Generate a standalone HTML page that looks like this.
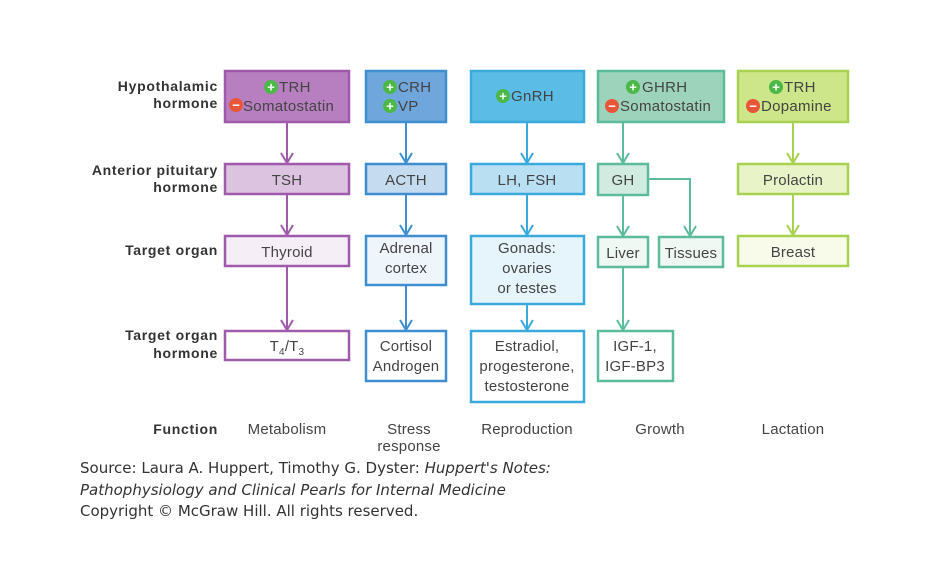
<!DOCTYPE html>
<html><head><meta charset="utf-8"><style>
html,body{margin:0;padding:0;background:#fff;width:930px;height:574px;overflow:hidden}
svg text{font-family:"Liberation Sans",Arial,sans-serif;fill:#444}
</style></head><body>
<svg width="930" height="574" viewBox="0 0 930 574" xmlns="http://www.w3.org/2000/svg">

<!-- row labels -->
<g font-size="14" font-weight="bold" text-anchor="end" letter-spacing="0.7">
<text x="218" y="91" style="fill:#333">Hypothalamic</text>
<text x="218" y="108" style="fill:#333">hormone</text>
<text x="218" y="175" style="fill:#333">Anterior pituitary</text>
<text x="218" y="192" style="fill:#333">hormone</text>
<text x="218" y="255" style="fill:#333">Target organ</text>
<text x="218" y="340" style="fill:#333">Target organ</text>
<text x="218" y="358" style="fill:#333">hormone</text>
<text x="218" y="434" style="fill:#333">Function</text>
</g>

<!-- connectors -->
<g stroke-width="2" fill="none">
<path d="M287 122 V163 M281 153 L287 163 L293 153" stroke="#a05aab"/>
<path d="M287 194 V235 M281 225 L287 235 L293 225" stroke="#a05aab"/>
<path d="M287 266 V330 M281 320 L287 330 L293 320" stroke="#a05aab"/>
<path d="M406 122 V163 M400 153 L406 163 L412 153" stroke="#3f8ecf"/>
<path d="M406 194 V235 M400 225 L406 235 L412 225" stroke="#3f8ecf"/>
<path d="M406 285 V330 M400 320 L406 330 L412 320" stroke="#3f8ecf"/>
<path d="M527 122 V163 M521 153 L527 163 L533 153" stroke="#3aa9dc"/>
<path d="M527 194 V235 M521 225 L527 235 L533 225" stroke="#3aa9dc"/>
<path d="M527 304 V330 M521 320 L527 330 L533 320" stroke="#3aa9dc"/>
<path d="M623 122 V163 M617 153 L623 163 L629 153" stroke="#5cbb9a"/>
<path d="M623 195 V236 M617 226 L623 236 L629 226" stroke="#5cbb9a"/>
<path d="M648 179 H690 V236 M684 226 L690 236 L696 226" stroke="#5cbb9a"/>
<path d="M623 267 V330 M617 320 L623 330 L629 320" stroke="#5cbb9a"/>
<path d="M793 122 V163 M787 153 L793 163 L799 153" stroke="#a8d14f"/>
<path d="M793 194 V235 M787 225 L793 235 L799 225" stroke="#a8d14f"/>
</g>

<!-- boxes -->
<g stroke-width="2.5">
<rect x="225" y="71" width="124" height="51" fill="#b77fc0" stroke="#a05aab"/>
<rect x="225" y="164" width="124" height="30" fill="#dcc3e0" stroke="#a05aab"/>
<rect x="225" y="236" width="124" height="30" fill="#f6eef7" stroke="#a05aab"/>
<rect x="225" y="331" width="124" height="29" fill="#fff" stroke="#a05aab"/>

<rect x="366" y="71" width="80" height="51" fill="#6fa6dc" stroke="#3f8ecf"/>
<rect x="366" y="164" width="80" height="30" fill="#c5dcf0" stroke="#3f8ecf"/>
<rect x="366" y="236" width="80" height="49" fill="#eef5fb" stroke="#3f8ecf"/>
<rect x="366" y="331" width="80" height="50" fill="#fff" stroke="#3f8ecf"/>

<rect x="471" y="71" width="113" height="51" fill="#5bbde6" stroke="#3aa9dc"/>
<rect x="471" y="164" width="113" height="30" fill="#b9e0f2" stroke="#3aa9dc"/>
<rect x="471" y="236" width="113" height="68" fill="#e6f4fb" stroke="#3aa9dc"/>
<rect x="471" y="331" width="113" height="71" fill="#fff" stroke="#3aa9dc"/>

<rect x="598" y="71" width="126" height="51" fill="#9dd3bb" stroke="#5cbb9a"/>
<rect x="598" y="164" width="50" height="31" fill="#d1ebe0" stroke="#5cbb9a"/>
<rect x="598" y="237" width="50" height="30" fill="#f0f8f4" stroke="#5cbb9a"/>
<rect x="659" y="237" width="64" height="30" fill="#f0f8f4" stroke="#5cbb9a"/>
<rect x="598" y="331" width="75" height="50" fill="#fff" stroke="#5cbb9a"/>

<rect x="738" y="71" width="110" height="51" fill="#cde68a" stroke="#a8d14f"/>
<rect x="738" y="164" width="110" height="30" fill="#e8f4c8" stroke="#a8d14f"/>
<rect x="738" y="236" width="110" height="30" fill="#f8fbea" stroke="#a8d14f"/>
</g>

<!-- plus/minus icons -->
<g>
<circle cx="271" cy="87" r="7" fill="#4cb848"/><text x="271" y="91.5" font-size="13" font-weight="bold" text-anchor="middle" style="fill:#fff">+</text>
<circle cx="236" cy="105" r="7" fill="#e8563a"/><text x="236" y="109.5" font-size="13" font-weight="bold" text-anchor="middle" style="fill:#fff">−</text>
<circle cx="390" cy="87" r="7" fill="#4cb848"/><text x="390" y="91.5" font-size="13" font-weight="bold" text-anchor="middle" style="fill:#fff">+</text>
<circle cx="390" cy="106" r="7" fill="#4cb848"/><text x="390" y="110.5" font-size="13" font-weight="bold" text-anchor="middle" style="fill:#fff">+</text>
<circle cx="503" cy="96" r="7" fill="#4cb848"/><text x="503" y="100.5" font-size="13" font-weight="bold" text-anchor="middle" style="fill:#fff">+</text>
<circle cx="633" cy="87" r="7" fill="#4cb848"/><text x="633" y="91.5" font-size="13" font-weight="bold" text-anchor="middle" style="fill:#fff">+</text>
<circle cx="612" cy="106" r="7" fill="#e8563a"/><text x="612" y="110.5" font-size="13" font-weight="bold" text-anchor="middle" style="fill:#fff">−</text>
<circle cx="776" cy="87" r="7" fill="#4cb848"/><text x="776" y="91.5" font-size="13" font-weight="bold" text-anchor="middle" style="fill:#fff">+</text>
<circle cx="753" cy="106" r="7" fill="#e8563a"/><text x="753" y="110.5" font-size="13" font-weight="bold" text-anchor="middle" style="fill:#fff">−</text>
</g>

<!-- box text -->
<g font-size="15" text-anchor="start" letter-spacing="0.3">
<text x="279" y="92">TRH</text>
<text x="243" y="111">Somatostatin</text>
<text x="398" y="92">CRH</text>
<text x="398" y="111">VP</text>
<text x="511" y="101">GnRH</text>
<text x="642" y="92">GHRH</text>
<text x="620" y="111">Somatostatin</text>
<text x="784" y="92">TRH</text>
<text x="761" y="111">Dopamine</text>
</g>
<g font-size="15" text-anchor="middle" letter-spacing="0.2">
<text x="287" y="185">TSH</text>
<text x="406" y="185">ACTH</text>
<text x="527" y="185">LH, FSH</text>
<text x="623" y="185">GH</text>
<text x="793" y="185">Prolactin</text>
<text x="287" y="257">Thyroid</text>
<text x="406" y="253">Adrenal</text>
<text x="406" y="273">cortex</text>
<text x="527" y="253">Gonads:</text>
<text x="527" y="273">ovaries</text>
<text x="527" y="293">or testes</text>
<text x="623" y="258">Liver</text>
<text x="691" y="258">Tissues</text>
<text x="793" y="257">Breast</text>
<text x="287" y="351">T<tspan font-size="10" dy="4">4</tspan><tspan dy="-4">/T</tspan><tspan font-size="10" dy="4">3</tspan></text>
<text x="406" y="351">Cortisol</text>
<text x="406" y="371">Androgen</text>
<text x="527" y="351">Estradiol,</text>
<text x="527" y="371">progesterone,</text>
<text x="527" y="391">testosterone</text>
<text x="635" y="351">IGF-1,</text>
<text x="635" y="371">IGF-BP3</text>
<text x="287" y="434">Metabolism</text>
<text x="409" y="434">Stress</text>
<text x="409" y="451">response</text>
<text x="527" y="434">Reproduction</text>
<text x="660" y="434">Growth</text>
<text x="793" y="434">Lactation</text>
</g>

<!-- source -->
<g font-size="15">
<text x="80" y="473" style="fill:#333;font-family:'DejaVu Sans',sans-serif">Source: Laura A. Huppert, Timothy G. Dyster: <tspan font-style="italic">Huppert's Notes:</tspan></text>
<text x="80" y="495" font-style="italic" style="fill:#333;font-family:'DejaVu Sans',sans-serif">Pathophysiology and Clinical Pearls for Internal Medicine</text>
<text x="80" y="516" style="fill:#333;font-family:'DejaVu Sans',sans-serif">Copyright © McGraw Hill. All rights reserved.</text>
</g>
</svg>
</body></html>
